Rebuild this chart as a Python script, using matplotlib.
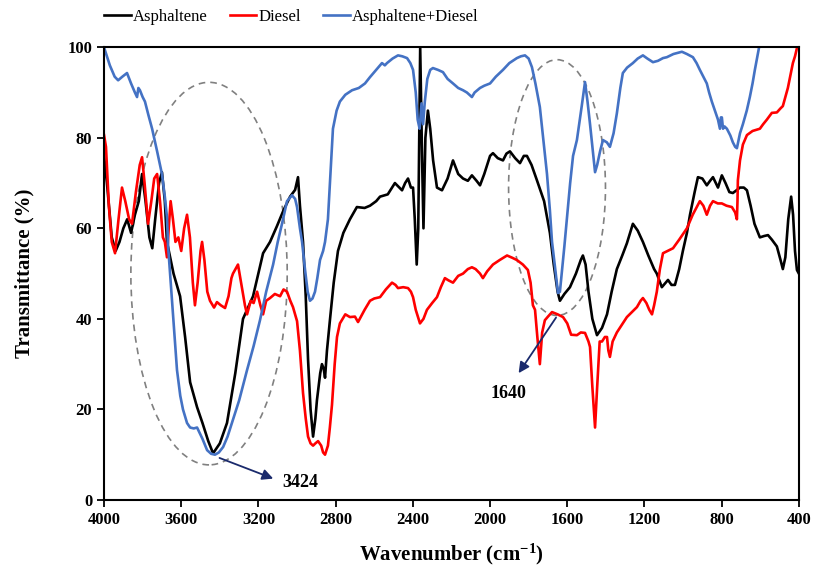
import matplotlib
matplotlib.use('Agg')
import matplotlib.pyplot as plt
from matplotlib.patches import Ellipse

plt.rcParams['font.family'] = ['Liberation Serif', 'DejaVu Serif']
plt.rcParams['mathtext.fontset'] = 'custom'
plt.rcParams['mathtext.rm'] = 'Liberation Serif:bold'
plt.rcParams['mathtext.default'] = 'rm'

# Asphaltene (black)
asp_wn = [4000, 3985, 3960, 3940, 3920, 3900, 3880, 3860, 3840, 3820, 3803, 3785, 3765, 3750, 3735, 3715, 3700,
          3685, 3674, 3640, 3606, 3580, 3554, 3518, 3490, 3460, 3435, 3400, 3363, 3320, 3280, 3228, 3176, 3140,
          3104, 3070, 3036, 3010, 2995, 2985, 2969, 2955, 2943, 2930, 2917, 2905, 2897, 2880, 2871, 2862, 2855,
          2845, 2829, 2810, 2788, 2760, 2726, 2690, 2650, 2622, 2590, 2570, 2530, 2493, 2470, 2456, 2440, 2425,
          2410, 2399, 2390, 2380, 2372, 2362, 2352, 2345, 2335, 2322, 2310, 2295, 2275, 2249, 2220, 2192, 2165,
          2140, 2115, 2094, 2070, 2052, 2030, 2000, 1985, 1960, 1933, 1915, 1897, 1870, 1845, 1825, 1809, 1785,
          1757, 1720, 1690, 1670, 1650, 1638, 1615, 1586, 1555, 1530, 1519, 1505, 1490, 1470, 1446, 1420, 1394,
          1370, 1343, 1315, 1291, 1260, 1235, 1208, 1180, 1150, 1136, 1110, 1090, 1078, 1060, 1042, 1020, 1001,
          980, 964, 940, 923, 900, 877, 860, 845, 830, 819, 799, 780, 760, 742, 720, 706, 685, 669, 650, 630,
          602, 580, 560, 540, 514, 495, 483, 470, 455, 440, 430, 420, 410, 400]
asp_t = [76, 70, 58, 55, 57, 60, 62, 59, 63, 66, 72, 66, 58, 55.6, 62, 70, 72.4,
         66, 57, 50, 45, 36, 26, 20.5, 17, 13, 10.3, 12.5, 17, 28, 40, 45, 54.5, 57,
         60.5, 64, 67, 68.5, 71.3, 65, 57, 45, 31, 20, 14, 18, 22, 28, 30, 29, 27,
         33, 40, 48, 55, 59, 62, 64.7, 64.5, 65, 66, 67, 67.5, 70, 69, 68.4, 70, 71,
         69, 69, 62, 52, 60, 100, 75, 60, 80, 86, 82, 75, 69, 68.4, 71, 75, 72,
         71, 70.5, 71.7, 70.5, 69.5, 72, 76, 76.6, 75.5, 75, 76.5, 77, 75.5, 74.4, 76, 76, 74,
         70.6, 66, 59, 52, 46, 44, 45.5, 47, 50, 53, 54, 52, 46, 40, 36.4, 38, 41,
         46, 51, 54, 56.7, 61, 59.5, 57, 54, 51, 50, 47, 48, 48.6, 47.5, 47.5, 51, 55,
         59, 63, 68, 71.3, 71, 69.5, 70.5, 71.3, 70, 69, 71.7, 70, 68, 67.8, 68.5, 69, 69, 68.4, 65, 61,
         58, 58.3, 58.5, 57.5, 56, 53, 51, 53.6, 62, 67, 63, 55, 50.8, 50]

# Diesel (red)
dsl_wn = [4000, 3990, 3975, 3960, 3943, 3925, 3907, 3890, 3870, 3855, 3835, 3815, 3803, 3790, 3772, 3755, 3740,
          3725, 3710, 3695, 3685, 3674, 3665, 3655, 3643, 3630, 3615, 3600, 3585, 3570, 3555, 3540, 3529, 3515,
          3500, 3492, 3480, 3465, 3451, 3430, 3415, 3395, 3373, 3355, 3340, 3332, 3306, 3290, 3270, 3259, 3240,
          3225, 3207, 3190, 3176, 3160, 3140, 3115, 3088, 3070, 3052, 3035, 3021, 3000, 2985, 2969, 2955, 2943,
          2930, 2917, 2905, 2891, 2875, 2865, 2855, 2840, 2830, 2819, 2805, 2793, 2778, 2750, 2726, 2700, 2684,
          2650, 2622, 2600, 2570, 2540, 2508, 2490, 2477, 2450, 2425, 2410, 2399, 2385, 2363, 2345, 2327, 2300,
          2275, 2255, 2234, 2215, 2192, 2165, 2140, 2115, 2094, 2075, 2052, 2037, 2015, 1985, 1950, 1912, 1885,
          1861, 1830, 1804, 1790, 1778, 1767, 1755, 1742, 1730, 1716, 1700, 1679, 1650, 1622, 1600, 1580, 1550,
          1530, 1508, 1490, 1482, 1470, 1456, 1445, 1432, 1420, 1405, 1394, 1387, 1379, 1365, 1343, 1320, 1291,
          1265, 1239, 1220, 1208, 1190, 1175, 1161, 1150, 1136, 1120, 1104, 1080, 1052, 1020, 980, 950, 913,
          895, 877, 860, 845, 820, 799, 775, 747, 730, 721, 718, 716, 705, 690, 669, 640, 602, 585, 566, 540,
          514, 495, 483, 470, 457, 445, 431, 420, 410, 400]
dsl_t = [80.6, 78, 65, 57, 54.5, 62, 69, 66, 62, 61, 68, 74, 75.7, 70, 61, 66, 71,
         72, 66, 58, 57, 53.6, 60, 66, 62, 57, 58, 55, 60, 63, 58, 48, 43, 48,
         55, 57, 53, 46, 44, 42.5, 43.7, 43, 42.4, 45, 49, 50, 52, 48, 43, 41, 44,
         43.5, 46, 43, 41, 44, 44.6, 45.5, 45, 46.5, 46, 44, 42.6, 39.5, 33, 23.6, 18, 14,
         12.5, 12, 12.5, 13, 12, 10.5, 10, 12, 16, 21, 30, 36, 39, 41, 40.4, 40.5, 39.3,
         42, 44, 44.5, 44.8, 46.5, 48, 47.5, 46.8, 47, 46.8, 46, 44.8, 42, 39, 40, 42, 43.5,
         44.8, 47, 49, 48.5, 48, 49.5, 50, 51, 51.4, 51, 50, 49, 50.5, 52, 53, 54, 53.5,
         53, 52, 50.8, 48, 43, 42, 36, 30, 37, 39.7, 40.5, 41.5, 41, 40.4, 39, 36.5, 36.4,
         37, 36.9, 35, 33.8, 25, 16, 25, 35, 35, 36, 36, 33, 31.6, 35, 37, 38.5, 40.4,
         41.5, 42.6, 44, 44.6, 43.5, 42, 41, 43, 46, 51, 54.5, 55, 55.6, 57.5, 60, 63, 66,
         65, 63, 65, 66, 65.5, 65.5, 65, 64.7, 63.5, 62, 66, 70.6, 75, 78.5, 80.6, 81.5, 82, 83, 84, 85.5,
         85.6, 86.5, 87, 89, 91, 93.5, 96.5, 98, 99.8, 100]

# Asphaltene+Diesel (blue)
mix_wn = [4000, 3995, 3970, 3945, 3927, 3905, 3881, 3860, 3840, 3829, 3822, 3814, 3800, 3788, 3770, 3751, 3725,
          3700, 3685, 3674, 3668, 3658, 3648, 3635, 3622, 3605, 3591, 3570, 3554, 3535, 3518, 3490, 3466, 3445,
          3425, 3405, 3383, 3360, 3332, 3300, 3259, 3225, 3192, 3160, 3124, 3100, 3078, 3052, 3026, 3010, 3000,
          2985, 2974, 2959, 2945, 2933, 2920, 2907, 2895, 2881, 2865, 2855, 2840, 2829, 2820, 2814, 2795, 2778,
          2750, 2715, 2680, 2648, 2622, 2590, 2560, 2545, 2534, 2505, 2477, 2455, 2430, 2413, 2399, 2385, 2375,
          2365, 2355, 2347, 2338, 2325, 2310, 2296, 2270, 2244, 2220, 2192, 2165, 2140, 2120, 2094, 2080, 2052,
          2030, 2000, 1970, 1933, 1900, 1861, 1840, 1819, 1800, 1783, 1765, 1742, 1725, 1705, 1690, 1679, 1665,
          1648, 1638, 1627, 1615, 1602, 1585, 1570, 1550, 1525, 1508, 1495, 1482, 1470, 1456, 1445, 1430, 1415,
          1395, 1379, 1360, 1343, 1325, 1312, 1290, 1260, 1235, 1208, 1185, 1156, 1130, 1104, 1084, 1050, 1006,
          980, 949, 930, 913, 895, 877, 865, 851, 835, 819, 809, 804, 799, 793, 785, 773, 755, 742, 730, 721,
          705, 690, 670, 654, 640, 628, 615, 607, 600]
mix_t = [100, 99.3, 96, 93.5, 92.7, 93.5, 94.3, 92, 90, 89, 91, 90.5, 89, 88, 85, 82, 77,
         72, 67, 62.5, 56, 50, 44, 36, 28.7, 23, 20, 17, 16, 15.8, 16, 13.5, 11, 10.2,
         10, 10.5, 11.7, 14, 17.7, 22, 28.7, 34, 39.7, 46, 52, 57, 61, 66, 67.3, 66.5, 64.7,
         60, 57, 51, 46, 44, 44.5, 46, 49, 53, 55, 57, 62, 70.6, 78, 82, 86, 88,
         89.5, 90.5, 91, 92, 93.4, 95, 96.5, 96, 96.5, 97.5, 98.2, 98, 97.6, 96.5, 95, 90, 84,
         82, 87.6, 83, 88, 93, 95, 95.4, 95, 94.5, 93, 92, 91, 90.5, 90, 89, 90, 91,
         91.5, 92, 93.5, 95, 96.5, 97.6, 98, 98.2, 97.5, 95.6, 92, 86.8, 80, 72, 64, 57, 52,
         45.7, 46, 50.8, 56, 62, 70, 76, 79.5, 87, 92.3, 88, 83, 78, 72.4, 74, 77, 79.5,
         79, 78, 81, 85.4, 91, 94.3, 95.5, 96.5, 97.5, 98.2, 97.5, 96.7, 97, 97.6, 97.8, 98.5, 99,
         98.5, 97.8, 96.5, 95, 93.5, 92, 90, 88, 86, 84, 82, 84.5, 84.5, 82, 82.5, 82, 80.5, 79, 78, 77.7,
         81, 83, 86, 89, 92, 95, 98, 99.8, 101]

fig = plt.figure(figsize=(8.16, 5.76), dpi=100)
ax = fig.add_axes([0.1275, 0.132, 0.8515, 0.786])

l1, = ax.plot(asp_wn, asp_t, color='black', lw=1.9, label='Asphaltene')
l2, = ax.plot(dsl_wn, dsl_t, color='#ff0000', lw=1.9, label='Diesel')
l3, = ax.plot(mix_wn, mix_t, color='#4472c4', lw=1.9, label='Asphaltene+Diesel')

# dashed ellipses around the two bands
ax.add_patch(Ellipse((3456, 50), 810, 84.5, fill=False, ls=(0, (4, 3)), color='#808080', lw=1.2))
ax.add_patch(Ellipse((1653, 69), 502, 56.5, fill=False, ls=(0, (4, 3)), color='#808080', lw=1.2))

arrow = dict(arrowstyle='-|>', color='#1a2a6c', lw=1.3, mutation_scale=16)
ax.annotate('', xy=(3110, 4.5), xytext=(3415, 9.5), arrowprops=arrow)
ax.text(3078, 3.8, '3424', fontsize=13, fontweight='bold', va='center', ha='left')
ax.annotate('', xy=(1860, 27.5), xytext=(1650, 40.8), arrowprops=arrow)
ax.text(1905, 23.6, '1640', fontsize=13, fontweight='bold', va='center', ha='center')

ax.set_xlim(4000, 400)
ax.set_ylim(0, 100)
ax.set_xticks([4000, 3600, 3200, 2800, 2400, 2000, 1600, 1200, 800, 400])
ax.set_yticks([0, 20, 40, 60, 80, 100])
ax.tick_params(labelsize=12, width=1.3, length=5, direction='out')
for lab in ax.get_xticklabels() + ax.get_yticklabels():
    lab.set_fontweight('bold')
for sp in ax.spines.values():
    sp.set_linewidth(1.5)

ax.set_xlabel('Wavenumber (cm$^{-1}$)', fontsize=15, fontweight='bold', labelpad=10)
ax.set_ylabel('Transmittance (%)', fontsize=15, fontweight='bold', labelpad=24)

fig.legend(handles=[l1, l2, l3], loc='center', bbox_to_anchor=(0.357, 0.97), ncol=3,
           frameon=False, fontsize=12, handlelength=1.6, handletextpad=0.15, columnspacing=1.3)

fig.savefig('out.png', dpi=100)
